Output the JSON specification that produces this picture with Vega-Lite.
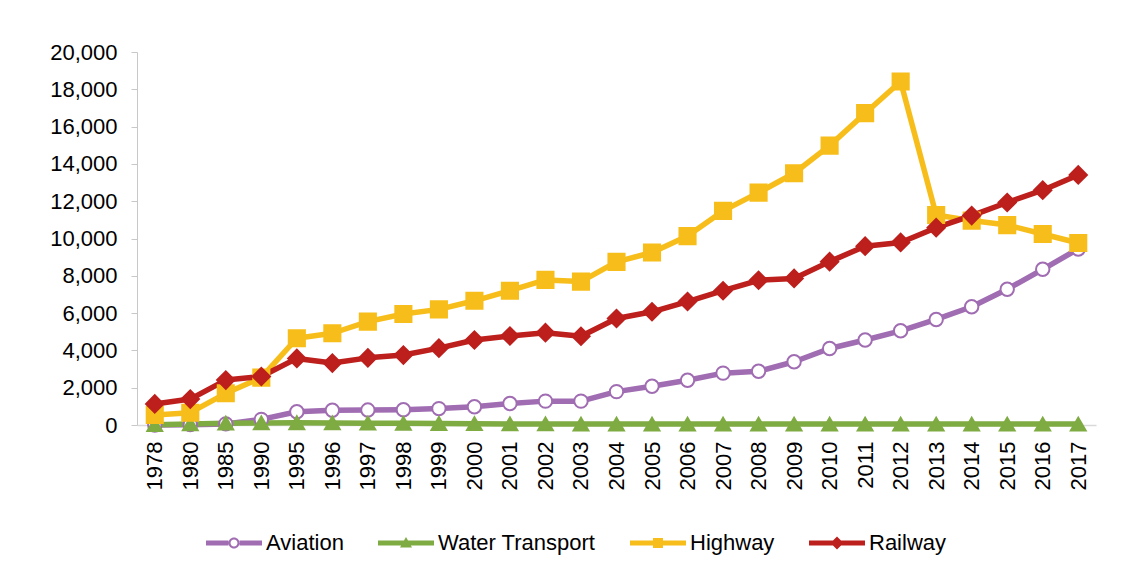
{
  "$schema": "https://vega.github.io/schema/vega-lite/v6.json",
  "autosize": {"type": "none"},
  "width": 959,
  "height": 373,
  "padding": {"left": 137, "top": 52, "right": 35, "bottom": 155},
  "background": "white",
  "data": {
    "values": [
      {"year": "1978", "Aviation": 0, "Water Transport": 20, "Highway": 540, "Railway": 1130},
      {"year": "1980", "Aviation": 20, "Water Transport": 60, "Highway": 660, "Railway": 1390},
      {"year": "1985", "Aviation": 60, "Water Transport": 100, "Highway": 1700, "Railway": 2410},
      {"year": "1990", "Aviation": 300, "Water Transport": 110, "Highway": 2540, "Railway": 2600},
      {"year": "1995", "Aviation": 710, "Water Transport": 120, "Highway": 4650, "Railway": 3570},
      {"year": "1996", "Aviation": 790, "Water Transport": 110, "Highway": 4920, "Railway": 3320},
      {"year": "1997", "Aviation": 800, "Water Transport": 100, "Highway": 5540, "Railway": 3600},
      {"year": "1998", "Aviation": 820, "Water Transport": 90, "Highway": 5950, "Railway": 3750},
      {"year": "1999", "Aviation": 880, "Water Transport": 80, "Highway": 6200, "Railway": 4120},
      {"year": "2000", "Aviation": 980, "Water Transport": 70, "Highway": 6660, "Railway": 4560},
      {"year": "2001", "Aviation": 1150, "Water Transport": 60, "Highway": 7200, "Railway": 4770},
      {"year": "2002", "Aviation": 1280, "Water Transport": 60, "Highway": 7780, "Railway": 4950},
      {"year": "2003", "Aviation": 1280, "Water Transport": 50, "Highway": 7690, "Railway": 4760},
      {"year": "2004", "Aviation": 1790, "Water Transport": 50, "Highway": 8750, "Railway": 5710},
      {"year": "2005", "Aviation": 2080, "Water Transport": 50, "Highway": 9250, "Railway": 6070},
      {"year": "2006", "Aviation": 2400, "Water Transport": 50, "Highway": 10130, "Railway": 6620},
      {"year": "2007", "Aviation": 2780, "Water Transport": 50, "Highway": 11480, "Railway": 7200},
      {"year": "2008", "Aviation": 2880, "Water Transport": 50, "Highway": 12460, "Railway": 7760},
      {"year": "2009", "Aviation": 3390, "Water Transport": 50, "Highway": 13500, "Railway": 7860},
      {"year": "2010", "Aviation": 4100, "Water Transport": 50, "Highway": 14980, "Railway": 8760},
      {"year": "2011", "Aviation": 4560, "Water Transport": 50, "Highway": 16720, "Railway": 9590},
      {"year": "2012", "Aviation": 5050, "Water Transport": 50, "Highway": 18420, "Railway": 9790},
      {"year": "2013", "Aviation": 5660, "Water Transport": 50, "Highway": 11260, "Railway": 10580},
      {"year": "2014", "Aviation": 6340, "Water Transport": 50, "Highway": 10960, "Railway": 11230},
      {"year": "2015", "Aviation": 7280, "Water Transport": 50, "Highway": 10720, "Railway": 11930},
      {"year": "2016", "Aviation": 8350, "Water Transport": 50, "Highway": 10240, "Railway": 12590},
      {"year": "2017", "Aviation": 9440, "Water Transport": 50, "Highway": 9760, "Railway": 13410}
    ]
  },
  "transform": [
    {"fold": ["Aviation", "Water Transport", "Highway", "Railway"], "as": ["series", "value"]}
  ],
  "encoding": {
    "x": {
      "field": "year",
      "type": "ordinal",
      "sort": null,
      "scale": {"paddingInner": 0, "paddingOuter": 0},
      "axis": {
        "title": null,
        "labelAngle": -90,
        "labelFont": "Liberation Sans",
        "labelFontSize": 22,
        "labelColor": "#000000",
        "labelPadding": 16,
        "labelOverlap": false,
        "ticks": false,
        "domainColor": "#d9d9d9",
        "domainWidth": 1.5,
        "grid": false
      }
    },
    "y": {
      "field": "value",
      "type": "quantitative",
      "scale": {"domain": [0, 20000], "nice": false},
      "axis": {
        "title": null,
        "values": [0, 2000, 4000, 6000, 8000, 10000, 12000, 14000, 16000, 18000, 20000],
        "format": ",.0f",
        "labelFont": "Liberation Sans",
        "labelFontSize": 22,
        "labelColor": "#000000",
        "labelPadding": 14,
        "labelOverlap": false,
        "tickSize": 6,
        "tickColor": "#c8c8c8",
        "domainColor": "#c8c8c8",
        "grid": false
      }
    }
  },
  "layer": [
    {
      "mark": {"type": "line", "strokeWidth": 5.5, "strokeJoin": "round"},
      "encoding": {
        "color": {
          "field": "series",
          "type": "nominal",
          "scale": {
            "domain": ["Aviation", "Water Transport", "Highway", "Railway"],
            "range": ["#a06cb2", "#7fab43", "#f7be1b", "#bc1f1c"]
          },
          "legend": {
            "title": null,
            "orient": "none",
            "direction": "horizontal",
            "legendX": 86,
            "legendY": 480,
            "labelFont": "Liberation Sans",
            "labelFontSize": 22,
            "labelColor": "#000000",
            "symbolSize": 400,
            "labelOffset": 21,
            "columnPadding": 34,
            "encode": {
              "symbols": {
                "update": {
                  "shape": {"signal": "datum.value === 'Aviation' ? 'M-2.8,-0.25H-0.55V0.25H-2.8Z M0.55,-0.25H2.8V0.25H0.55Z M-0.55,0A0.55,0.55 0 1,0 0.55,0A0.55,0.55 0 1,0 -0.55,0Z M-0.35,0A0.35,0.35 0 1,1 0.35,0A0.35,0.35 0 1,1 -0.35,0Z' : datum.value === 'Water Transport' ? 'M-2.8,-0.25H2.8V0.25H-2.8Z M0,-0.6L0.6,0.45L-0.6,0.45Z' : datum.value === 'Highway' ? 'M-2.8,-0.25H2.8V0.25H-2.8Z M-0.5,-0.5H0.5V0.5H-0.5Z' : 'M-2.8,-0.25H2.8V0.25H-2.8Z M0,-0.65L0.65,0L0,0.65L-0.65,0Z'"},
                  "fill": {"signal": "scale('color', datum.value)"},
                  "strokeWidth": {"value": 0},
                  "opacity": {"value": 1}
                }
              }
            }
          }
        }
      }
    },
    {
      "mark": {"type": "point", "filled": true, "strokeWidth": 2, "opacity": 1},
      "encoding": {
        "shape": {
          "field": "series",
          "type": "nominal",
          "scale": {
            "domain": ["Railway", "Highway", "Water Transport", "Aviation"],
            "range": ["diamond", "square", "triangle-up", "circle"]
          },
          "legend": null
        },
        "fill": {
          "field": "series",
          "type": "nominal",
          "scale": {
            "domain": ["Railway", "Highway", "Water Transport", "Aviation"],
            "range": ["#bc1f1c", "#f7be1b", "#7fab43", "#ffffff"]
          },
          "legend": null
        },
        "stroke": {
          "field": "series",
          "type": "nominal",
          "scale": {
            "domain": ["Railway", "Highway", "Water Transport", "Aviation"],
            "range": ["#bc1f1c", "#f7be1b", "#7fab43", "#a06cb2"]
          },
          "legend": null
        },
        "size": {
          "field": "series",
          "type": "nominal",
          "scale": {
            "domain": ["Railway", "Highway", "Water Transport", "Aviation"],
            "range": [300, 180, 190, 140]
          },
          "legend": null
        }
      }
    }
  ],
  "config": {
    "font": "Liberation Sans",
    "view": {"stroke": null}
  }
}
